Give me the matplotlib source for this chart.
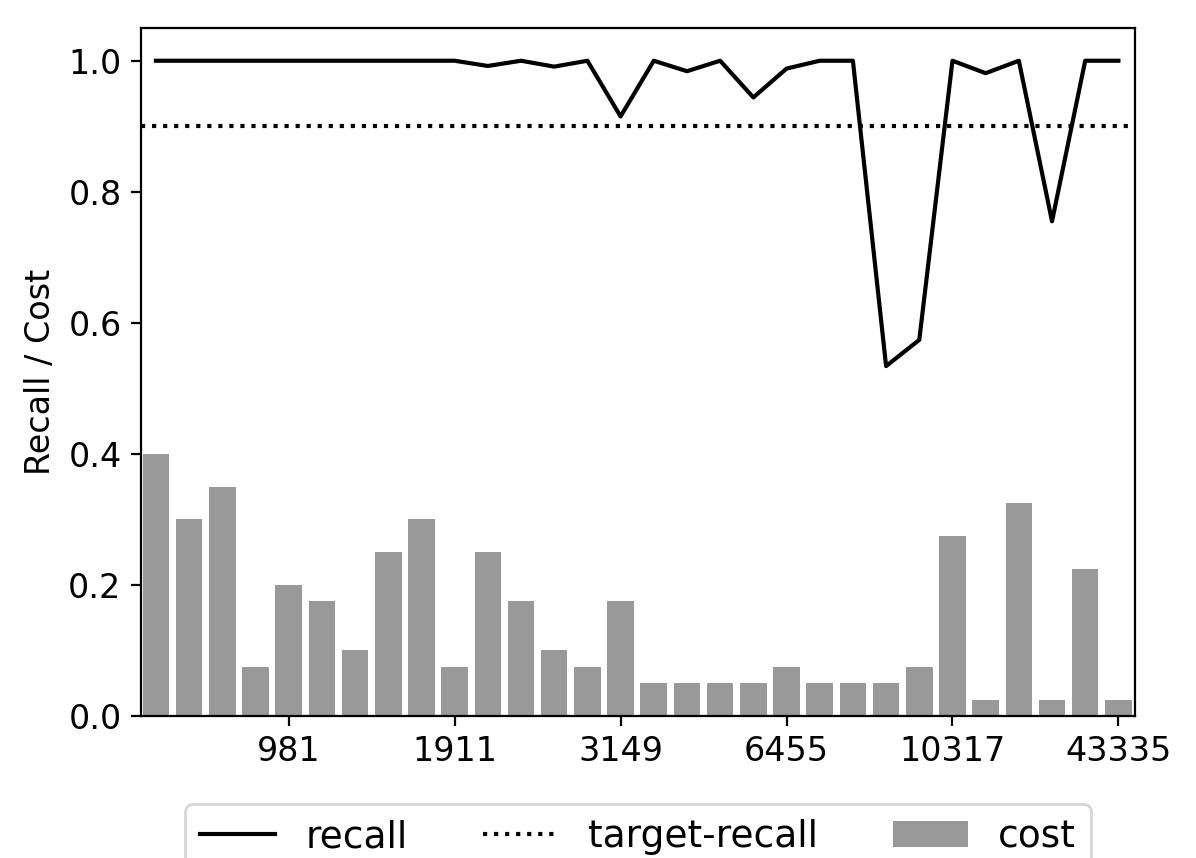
import matplotlib
matplotlib.use("Agg")
import matplotlib.pyplot as plt
import numpy as np

# per-query recall and cost, 30 queries sorted by size
recall = [1.0, 1.0, 1.0, 1.0, 1.0, 1.0, 1.0, 1.0, 1.0, 1.0,
          0.992, 1.0, 0.991, 1.0, 0.915, 1.0, 0.984, 1.0, 0.944, 0.988,
          1.0, 1.0, 0.534, 0.574, 1.0, 0.981, 1.0, 0.755, 1.0, 1.0]
cost = [0.40, 0.30, 0.35, 0.075, 0.20, 0.175, 0.10, 0.25, 0.30, 0.075,
        0.25, 0.175, 0.10, 0.075, 0.175, 0.05, 0.05, 0.05, 0.05, 0.075,
        0.05, 0.05, 0.05, 0.075, 0.275, 0.025, 0.325, 0.025, 0.225, 0.025]
target_recall = 0.9

tick_pos = [4, 9, 14, 19, 24, 29]
tick_labels = ['981', '1911', '3149', '6455', '10317', '43335']

plt.rcParams['font.size'] = 12

fig = plt.figure(figsize=(5.98, 4.29), dpi=200)
ax = fig.add_axes([0.1179, 0.1655, 0.8311, 0.8019])

x = np.arange(len(recall))
ax.bar(x, cost, width=0.8, color='#999999', label='cost')
ax.plot(x, recall, color='black', linewidth=1.5, label='recall')
ax.axhline(target_recall, color='black', linestyle=':', linewidth=1.5, label='target-recall')

ax.set_xlim(-0.45, 29.5)
ax.set_xticks(tick_pos)
ax.set_xticklabels(tick_labels)
ax.set_yticks([0.0, 0.2, 0.4, 0.6, 0.8, 1.0])
ax.set_ylabel('Recall / Cost')

# recall, target-recall, cost
ax.legend(loc='upper center', bbox_to_anchor=(0.5, -0.128), borderaxespad=0,
          ncol=3, fontsize=13.5)

fig.savefig('out.png', dpi=200)
